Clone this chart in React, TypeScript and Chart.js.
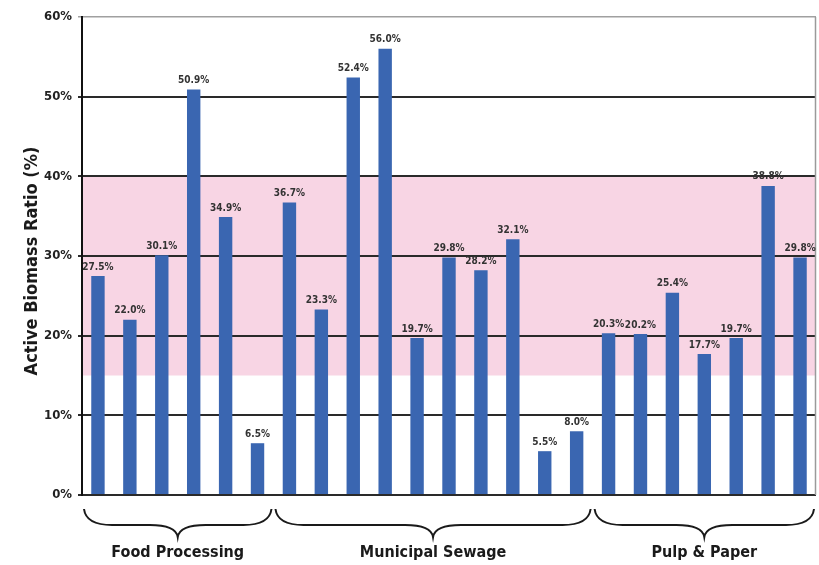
import React, { useEffect, useRef } from "react";
import { Chart, registerables } from "chart.js";

Chart.register(...registerables);

const groups = ["Food Processing", "Municipal Sewage", "Pulp & Paper"];
const foodValues = [27.5, 22.0, 30.1, 50.9, 34.9, 6.5];
const sewageValues = [36.7, 23.3, 52.4, 56.0, 19.7, 29.8, 28.2, 32.1, 5.5, 8.0];
const pulpValues = [20.3, 20.2, 25.4, 17.7, 19.7, 38.8, 29.8];
const yTicks = [0, 10, 20, 30, 40, 50, 60];
const bandRange = [15, 40];
const yTitle = "Active Biomass Ratio (%)";

const FONT = "'DejaVu Sans Condensed', 'DejaVu Sans', sans-serif";

export default function App() {
  const ref = useRef<HTMLCanvasElement | null>(null);

  useEffect(() => {
    const values = [...foodValues, ...sewageValues, ...pulpValues];
    const labels = values.map((_, i) => String(i + 1));
    const groupRanges: [number, number][] = [];
    let s = 0;
    [foodValues, sewageValues, pulpValues].forEach((g) => {
      groupRanges.push([s, s + g.length - 1]);
      s += g.length;
    });

    const deco = {
      id: "deco",
      beforeDraw(chart: any) {
        const { ctx, chartArea, scales } = chart;
        const y = scales.y;
        ctx.save();
        ctx.fillStyle = "#ffffff";
        ctx.fillRect(0, 0, chart.width, chart.height);
        ctx.fillStyle = "#f8d5e4";
        const t = y.getPixelForValue(bandRange[1]);
        const b = y.getPixelForValue(bandRange[0]);
        ctx.fillRect(chartArea.left, t, chartArea.right - chartArea.left, b - t);
        ctx.restore();
      },
      afterDatasetsDraw(chart: any) {
        const { ctx, chartArea, scales } = chart;
        const x = scales.x;
        ctx.save();
        // right border
        ctx.strokeStyle = "#9a9a9a";
        ctx.lineWidth = 1.5;
        ctx.beginPath();
        ctx.moveTo(chartArea.right - 0.5, chartArea.top);
        ctx.lineTo(chartArea.right - 0.5, chartArea.bottom);
        ctx.stroke();

        // value labels
        const meta = chart.getDatasetMeta(0);
        ctx.fillStyle = "#333";
        ctx.font = `bold 10px ${FONT}`;
        ctx.textAlign = "center";
        ctx.textBaseline = "bottom";
        meta.data.forEach((bar: any, i: number) => {
          ctx.fillText(values[i].toFixed(1) + "%", bar.x, bar.y - 4);
        });

        // braces
        const yTop = chartArea.bottom + 14;
        const yMid = chartArea.bottom + 30;
        const yTip = chartArea.bottom + 42;
        ctx.strokeStyle = "#1a1a1a";
        ctx.lineWidth = 2;
        groupRanges.forEach(([a, b], gi) => {
          const x0 = x.getPixelForValue(a - 0.5) + 2;
          const x1 = x.getPixelForValue(b + 0.5) - 2;
          const xm = (x0 + x1) / 2;
          const r = 14;
          ctx.beginPath();
          ctx.moveTo(x0, yTop);
          ctx.quadraticCurveTo(x0 + 2, yMid, x0 + r * 2, yMid);
          ctx.lineTo(xm - r * 2, yMid);
          ctx.quadraticCurveTo(xm - 2, yMid, xm, yTip);
          ctx.quadraticCurveTo(xm + 2, yMid, xm + r * 2, yMid);
          ctx.lineTo(x1 - r * 2, yMid);
          ctx.quadraticCurveTo(x1 - 2, yMid, x1, yTop);
          ctx.stroke();
          ctx.fillStyle = "#1a1a1a";
          ctx.font = `bold 16px ${FONT}`;
          ctx.textAlign = "center";
          ctx.textBaseline = "middle";
          ctx.fillText(groups[gi], xm, chartArea.bottom + 58);
        });

        // y title
        ctx.save();
        ctx.translate(32, (chartArea.top + chartArea.bottom) / 2 + 5);
        ctx.rotate(-Math.PI / 2);
        ctx.fillStyle = "#1a1a1a";
        ctx.font = `bold 18px ${FONT}`;
        ctx.textAlign = "center";
        ctx.textBaseline = "middle";
        ctx.fillText(yTitle, 0, 0);
        ctx.restore();
        ctx.restore();
      },
    };

    const chart = new Chart(ref.current as HTMLCanvasElement, {
      type: "bar",
      data: {
        labels,
        datasets: [
          {
            data: values,
            backgroundColor: "#3a66b1",
            barPercentage: 0.42,
            categoryPercentage: 1,
          },
        ],
      },
      options: {
        animation: false,
        responsive: false,
        layout: { padding: { left: 0, right: 3, top: 17, bottom: 70 } },
        plugins: { legend: { display: false }, tooltip: { enabled: false } },
        scales: {
          x: { display: false },
          y: {
            min: yTicks[0],
            max: yTicks[yTicks.length - 1],
            afterFit: (sc: any) => {
              sc.width = 82;
            },
            afterBuildTicks: (sc: any) => {
              sc.ticks = yTicks.map((v) => ({ value: v }));
            },
            ticks: {
              color: "#222",
              font: { family: FONT, weight: "bold", size: 13 },
              padding: 6,
              callback: (v: any) => v + "%",
            },
            grid: {
              color: (c: any) => (c.tick && c.tick.value === 60 ? "#a0a0a0" : "#2a2a2a"),
              lineWidth: (c: any) => (c.tick && c.tick.value === 60 ? 1.5 : 2),
              tickLength: 4,
            },
            border: { color: "#111", width: 2 },
          },
        },
      },
      plugins: [deco],
    });
    return () => chart.destroy();
  }, []);

  return (
    <div style={{ position: "fixed", left: 0, top: 0, width: 819, height: 565, background: "#fff" }}>
      <canvas ref={ref} width={819} height={565} />
    </div>
  );
}
